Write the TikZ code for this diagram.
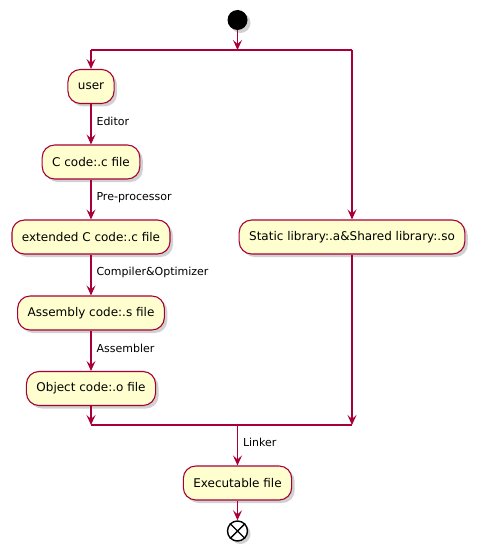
\documentclass[tikz,border=0pt]{standalone}
\usepackage{fontspec}
\setmainfont{DejaVu Sans}
\usetikzlibrary{arrows.meta,shadows}
\definecolor{actfill}{HTML}{FEFECE}
\definecolor{actline}{HTML}{A80036}
\tikzset{
  flowshadow/.style={drop shadow={shadow xshift=3pt,shadow yshift=-3pt,opacity=0.3,fill=black!60}},
  activity/.style={draw=actline,fill=actfill,line width=1.1pt,rounded corners=12.5pt,
    inner xsep=10pt,inner ysep=0pt,minimum height=34pt,font=\fontsize{12pt}{14pt}\selectfont,
    text=black,flowshadow},
  flow/.style={draw=actline,line width=1.1pt},
  arr/.style={flow,-{Stealth[length=10pt,width=9pt,inset=4pt]}},
  lbl/.style={font=\fontsize{11pt}{13pt}\selectfont,text=black,inner sep=0pt,anchor=west},
  startnode/.style={circle,fill=black,minimum size=20pt,inner sep=0pt,flowshadow},
  stopnode/.style={circle,draw=black,fill=white,line width=1.4pt,minimum size=20pt,inner sep=0pt,flowshadow},
}
\begin{document}
\begin{tikzpicture}[x=1pt,y=-1pt]
  \useasboundingbox (0,0) rectangle (480,556);
  % start and the split into two branches
  \node[startnode] (start) at (237.5,20) {};
  \coordinate (fork) at (237.5,50);
  \coordinate (forkL) at (91,50);
  \coordinate (forkR) at (352,50);
  % left branch: compilation chain
  \node[activity] (user) at (91,86.5) {user};
  \node[activity] (csrc) at (91,162) {C code:.c file};
  \node[activity] (cext) at (91,237) {extended C code:.c file};
  \node[activity] (asm) at (91,313) {Assembly code:.s file};
  \node[activity] (obj) at (91,388.5) {Object code:.o file};
  % right branch: libraries
  \node[activity] (libs) at (352,237) {Static library:.a\&Shared library:.so};
  % merge and result
  \coordinate (joinL) at (91,425);
  \coordinate (joinR) at (352,425);
  \coordinate (join) at (237.5,425);
  \node[activity] (exe) at (237.5,483) {Executable file};
  \node[stopnode] (stop) at (237.5,531) {};
  \draw[black,line width=1.4pt] (stop.north west) -- (stop.south east)
                                (stop.north east) -- (stop.south west);

  % connectors
  \draw[arr] (start) -- (fork);
  \draw[flow] (forkL) -- (forkR);
  \draw[arr] (forkL) -- (user);
  \draw[arr] (forkR) -- (libs);
  \draw[arr] (user) -- node[lbl,pos=0.42,xshift=5pt] {Editor} (csrc);
  \draw[arr] (csrc) -- node[lbl,pos=0.45,xshift=5pt] {Pre-processor} (cext);
  \draw[arr] (cext) -- node[lbl,pos=0.43,xshift=5pt] {Compiler\&Optimizer} (asm);
  \draw[arr] (asm) -- node[lbl,pos=0.43,xshift=5pt] {Assembler} (obj);
  \draw[arr] (obj) -- (joinL);
  \draw[arr] (libs) -- (joinR);
  \draw[flow] (joinL) -- (joinR);
  \draw[arr] (join) -- node[lbl,pos=0.43,xshift=5pt] {Linker} (exe);
  \draw[arr] (exe) -- (stop);
\end{tikzpicture}
\end{document}
